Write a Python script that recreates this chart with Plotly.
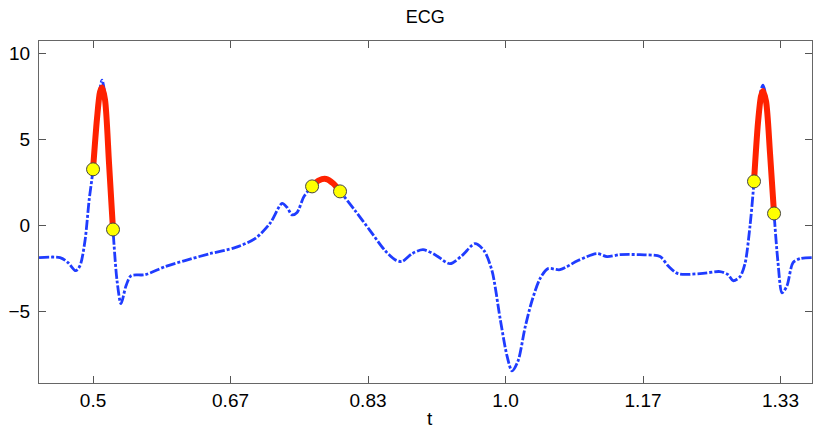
import plotly.graph_objects as go

# ECG signal
t_ecg = [0.4345, 0.460, 0.4697, 0.479, 0.4842, 0.4903, 0.4952, 0.5, 0.5048, 0.5085,
         0.5109, 0.5145, 0.5194, 0.5242, 0.5291, 0.5339, 0.54, 0.5461, 0.563, 0.5873,
         0.6115, 0.6418, 0.6721, 0.6964, 0.7145, 0.7291, 0.7352, 0.7412, 0.7473, 0.7558,
         0.7655, 0.7739, 0.7824, 0.7909, 0.7994, 0.8176, 0.8358, 0.8539, 0.8661, 0.8745,
         0.8867, 0.9, 0.9145, 0.9327, 0.9473, 0.963, 0.9739, 0.9836, 0.9933, 1.0018,
         1.0079, 1.0152, 1.0236, 1.0321, 1.0418, 1.0515, 1.0661, 1.0879, 1.1109, 1.1230,
         1.1388, 1.1630, 1.1873, 1.1970, 1.2091, 1.2358, 1.26, 1.2697, 1.2758, 1.2842,
         1.2903, 1.2964, 1.3012, 1.3061, 1.3097, 1.3121, 1.3158, 1.3206, 1.3255, 1.3303,
         1.3352, 1.3412, 1.3485, 1.357, 1.3715]
v_ecg = [-1.86, -1.86, -2.15, -2.62, -2.33, -0.87, 1.45, 3.26, 6.4, 7.97,
         8.43, 7.56, 3.78, -0.23, -3.2, -4.53, -3.49, -2.91, -2.85, -2.38,
         -2.03, -1.63, -1.28, -0.76, 0.12, 1.28, 1.05, 0.62, 0.76, 1.69,
         2.27, 2.67, 2.73, 2.44, 1.98, 0.87, -0.29, -1.45, -1.98, -2.09,
         -1.63, -1.40, -1.69, -2.21, -1.74, -1.05, -1.45, -2.62, -5.35, -7.56,
         -8.43, -7.85, -5.93, -4.36, -3.08, -2.50, -2.56, -2.03, -1.63, -1.80,
         -1.69, -1.69, -1.80, -2.33, -2.79, -2.79, -2.67, -2.85, -3.20, -2.97,
         -2.21, 0.0, 2.56, 6.10, 7.85, 8.14, 7.44, 4.36, 0.70, -2.15,
         -3.90, -3.49, -2.15, -1.92, -1.86]

# highlighted (red) segments
t_red1 = [0.5, 0.5048, 0.5085, 0.5109, 0.5145, 0.5194, 0.5242]
v_red1 = [3.26, 6.2, 7.75, 8.0, 7.3, 3.6, -0.23]
t_red2 = [0.7655, 0.7739, 0.7824, 0.7909, 0.7994]
v_red2 = [2.27, 2.62, 2.70, 2.45, 1.98]
t_red3 = [1.3012, 1.3061, 1.3097, 1.3121, 1.3158, 1.3206, 1.3255]
v_red3 = [2.56, 6.0, 7.5, 7.8, 7.2, 4.2, 0.70]

# yellow endpoints
t_pts = [0.5, 0.5242, 0.7655, 0.7994, 1.3012, 1.3255]
v_pts = [3.26, -0.23, 2.27, 1.98, 2.56, 0.70]

x_tickvals = [0.5, 2/3, 5/6, 1.0, 7/6, 4/3]
x_ticktext = ["0.5", "0.67", "0.83", "1.0", "1.17", "1.33"]
y_tickvals = [-5, 0, 5, 10]

FONT = "Liberation Sans, Arial, Helvetica, sans-serif"

fig = go.Figure()
fig.add_trace(go.Scatter(x=t_ecg, y=v_ecg, mode="lines",
                         line=dict(color="#1f3cff", width=2.8, dash="10px,2px,3px,2px",
                                   shape="spline", smoothing=0.8),
                         hoverinfo="skip", showlegend=False))
for tr, vr in [(t_red1, v_red1), (t_red2, v_red2), (t_red3, v_red3)]:
    fig.add_trace(go.Scatter(x=tr, y=vr, mode="lines",
                             line=dict(color="#ff2200", width=6, shape="spline", smoothing=0.8),
                             showlegend=False))
fig.add_trace(go.Scatter(x=t_pts, y=v_pts, mode="markers",
                         marker=dict(color="#ffff00", size=13,
                                     line=dict(color="#444444", width=1)),
                         showlegend=False))

axis_common = dict(showgrid=False, zeroline=False, showline=True, linecolor="#666666",
                   linewidth=1, mirror="allticks", ticks="inside", ticklen=7,
                   tickcolor="#555555", automargin=False,
                   tickfont=dict(family=FONT, size=19, color="#000000"))
fig.update_layout(
    width=813, height=429,
    margin=dict(l=39, r=1, t=41, b=46),
    paper_bgcolor="white", plot_bgcolor="white",
    title=dict(text="ECG", x=0.523, xanchor="center", y=0.962, yanchor="middle",
               font=dict(family=FONT, size=18, color="#000")),
    xaxis=dict(range=[0.4345, 1.3715], tickvals=x_tickvals, ticktext=x_ticktext,
               ticklabelstandoff=0, **axis_common),
    yaxis=dict(range=[-9.13, 10.7], tickvals=y_tickvals, ticklabelstandoff=4,
               **axis_common),
)
fig.add_annotation(text="t", xref="paper", yref="paper",
                   x=(430 - 39) / (813 - 39 - 1), y=-(418 - 383) / (429 - 41 - 46),
                   yanchor="middle", showarrow=False,
                   font=dict(family=FONT, size=19, color="#000"))
fig.write_html("out.html", config={"displayModeBar": False},
               post_script="document.body.style.margin='0px';")
